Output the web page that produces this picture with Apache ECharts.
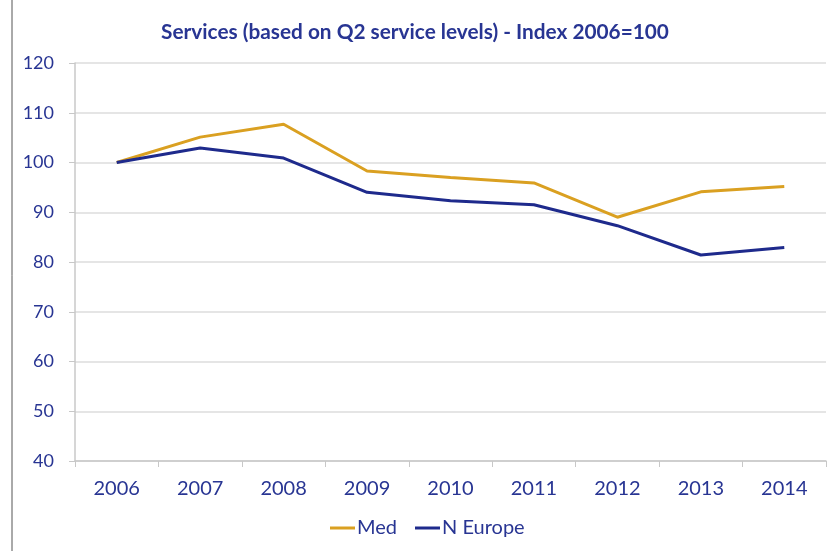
<!DOCTYPE html>
<html><head><meta charset="utf-8">
<script src="https://cdn.jsdelivr.net/npm/echarts@6/dist/echarts.min.js"></script>
<style>html,body{margin:0;padding:0;background:#fff}#c{width:830px;height:551px}</style>
</head><body><div id="c"></div>
<script>
const categories = ['2006','2007','2008','2009','2010','2011','2012','2013','2014'];
const med = [100, 105.1, 107.7, 98.3, 97.0, 95.9, 89.0, 94.1, 95.2];
const nEurope = [100, 102.9, 100.9, 94.0, 92.3, 91.5, 87.3, 81.4, 82.9];
const textColor = '#283593';
const chart = echarts.init(document.getElementById('c'));
chart.setOption({
  animation: false,
  textStyle: {fontFamily: 'Lato'},
  title: {text: 'Services (based on Q2 service levels) - Index 2006=100', left: 'center', top: 17,
    textStyle: {fontFamily: 'Lato', fontSize: 20.8, fontWeight: 'bold', color: textColor}},
  legend: {bottom: 8, left: 325, itemWidth: 25, itemHeight: 3, icon: 'rect', itemGap: 18,
    textStyle: {fontFamily: 'Lato', fontSize: 20, color: textColor, padding: [0,0,0,-3]}, data: ['Med','N Europe']},
  grid: {left: 75, right: 4, top: 63, bottom: 90, containLabel: false},
  xAxis: {type: 'category', data: categories, boundaryGap: true,
    axisLine: {lineStyle: {color: '#c8c8c8', width: 1.5}},
    axisTick: {show: true, length: 6, lineStyle: {color: '#c8c8c8'}},
    axisLabel: {fontSize: 20, color: textColor, margin: 18}},
  yAxis: {type: 'value', min: 40, max: 120, interval: 10,
    axisLine: {show: true, lineStyle: {color: '#c8c8c8', width: 1.5}},
    axisTick: {show: true, length: 6, lineStyle: {color: '#c8c8c8'}},
    splitLine: {lineStyle: {color: '#dcdcdc', width: 1.5}},
    axisLabel: {fontSize: 18, color: textColor, margin: 21}},
  graphic: [{type: 'line', shape: {x1: 12, y1: 0, x2: 12, y2: 551}, style: {stroke: '#555', lineWidth: 1}}],
  series: [
    {name: 'Med', type: 'line', data: med, symbol: 'none', lineStyle: {color: '#DAA021', width: 3}, itemStyle: {color: '#DAA021'}},
    {name: 'N Europe', type: 'line', data: nEurope, symbol: 'none', lineStyle: {color: '#1E2A8C', width: 3}, itemStyle: {color: '#1E2A8C'}}
  ]
});
</script></body></html>
